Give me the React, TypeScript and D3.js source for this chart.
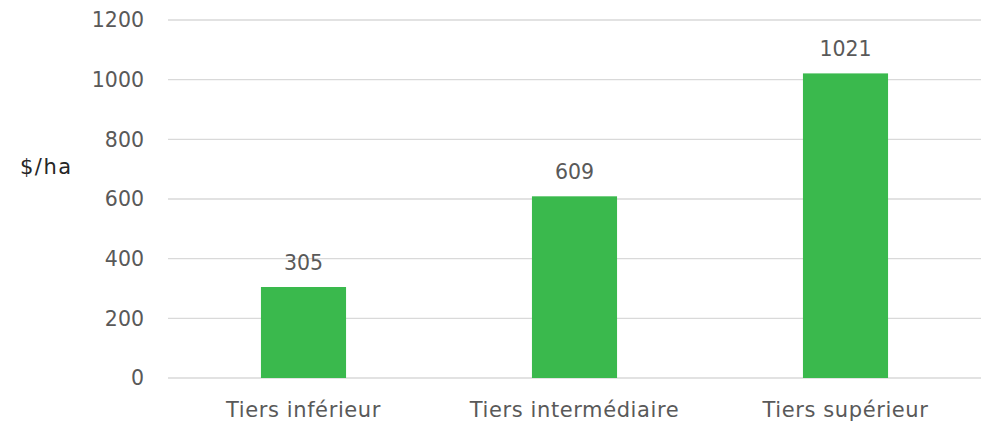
import * as d3 from "d3";
import { useEffect, useRef } from "react";

const categories = ["Tiers inférieur", "Tiers intermédiaire", "Tiers supérieur"];
const values = [305, 609, 1021];
const yTicks = [0, 200, 400, 600, 800, 1000, 1200];
const yTitle = "$/ha";

const COLORS = {
  bar: "#3AB94D",
  grid: "#D9D9D9",
  text: "#595959",
  title: "#262626",
};

const FONT = "'DejaVu Sans', sans-serif";

const App = () => {
  const svgRef = useRef<SVGSVGElement | null>(null);

  useEffect(() => {
    const width = 992;
    const height = 424;
    const margin = { top: 20, right: 11, bottom: 46, left: 168 };

    const svg = d3.select(svgRef.current);
    svg.selectAll("*").remove();
    svg.attr("width", width).attr("height", height);

    const x = d3
      .scaleBand<string>()
      .domain(categories)
      .range([margin.left, width - margin.right])
      .paddingInner(0.686)
      .paddingOuter(0.343);

    const y = d3
      .scaleLinear()
      .domain([0, 1200])
      .range([height - margin.bottom, margin.top]);

    // grid lines
    svg
      .append("g")
      .selectAll("line")
      .data(yTicks)
      .enter()
      .append("line")
      .attr("x1", margin.left)
      .attr("x2", width - margin.right)
      .attr("y1", (d) => y(d))
      .attr("y2", (d) => y(d))
      .style("stroke", COLORS.grid)
      .style("stroke-width", 1.3);

    // y tick labels
    svg
      .append("g")
      .selectAll("text")
      .data(yTicks)
      .enter()
      .append("text")
      .attr("x", 144)
      .attr("y", (d) => y(d))
      .attr("dy", "0.36em")
      .attr("text-anchor", "end")
      .attr("font-family", FONT)
      .attr("font-size", "20.5px")
      .style("fill", COLORS.text)
      .text((d) => d);

    // y title
    svg
      .append("text")
      .attr("x", 20)
      .attr("y", 174)
      .attr("font-family", FONT)
      .attr("font-size", "21px")
      .attr("letter-spacing", "1.5px")
      .style("fill", COLORS.title)
      .text(yTitle);

    // bars
    svg
      .append("g")
      .selectAll("rect")
      .data(values)
      .enter()
      .append("rect")
      .attr("x", (d, i) => x(categories[i]) as number)
      .attr("width", x.bandwidth())
      .attr("y", (d) => y(d))
      .attr("height", (d) => y(0) - y(d))
      .style("fill", COLORS.bar);

    // value labels
    svg
      .append("g")
      .selectAll("text")
      .data(values)
      .enter()
      .append("text")
      .attr("x", (d, i) => (x(categories[i]) as number) + x.bandwidth() / 2)
      .attr("y", (d) => y(d) - 17)
      .attr("text-anchor", "middle")
      .attr("font-family", FONT)
      .attr("font-size", "20.5px")
      .style("fill", COLORS.text)
      .text((d) => d);

    // category labels
    svg
      .append("g")
      .selectAll("text")
      .data(categories)
      .enter()
      .append("text")
      .attr("x", (d) => (x(d) as number) + x.bandwidth() / 2)
      .attr("y", 417)
      .attr("text-anchor", "middle")
      .attr("font-family", FONT)
      .attr("font-size", "21px")
      .attr("letter-spacing", "0.6px")
      .style("fill", COLORS.text)
      .text((d) => d);
  }, []);

  return (
    <svg
      ref={svgRef}
      style={{ position: "absolute", left: 0, top: 0, display: "block" }}
    />
  );
};

export default App;
